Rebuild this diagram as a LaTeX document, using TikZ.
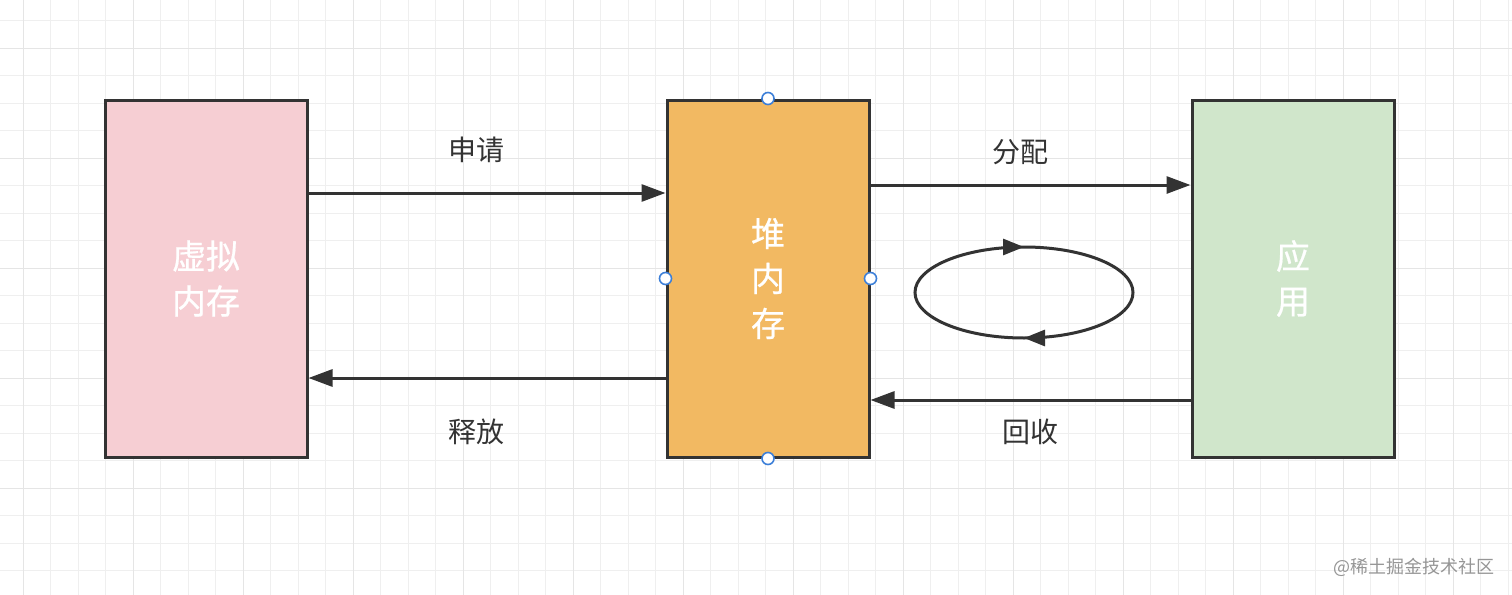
\documentclass[tikz,border=0pt]{standalone}
\usepackage{fontspec}
\setmainfont{Noto Sans CJK SC}
\newfontfamily\boxfont[FakeBold=0.6]{Noto Sans CJK SC}
\usepackage{xcolor}
\definecolor{gridminor}{RGB}{239,239,239}
\definecolor{gridmajor}{RGB}{229,229,229}
\definecolor{linecolor}{RGB}{51,51,51}
\definecolor{vmemfill}{RGB}{246,206,211}
\definecolor{heapfill}{RGB}{242,185,98}
\definecolor{appfill}{RGB}{208,230,203}
\definecolor{handlecolor}{RGB}{60,127,216}
\definecolor{markcolor}{RGB}{150,150,150}
\usetikzlibrary{arrows.meta,decorations.markings}

\begin{document}
\begin{tikzpicture}[x=0.5pt, y=-0.5pt,
  membox/.style={draw=linecolor, line width=1.5pt, minimum width=101pt, minimum height=178.5pt,
    inner sep=0pt, text=white, font=\boxfont\fontsize{17}{22.5}\selectfont, align=center},
  flow/.style={draw=linecolor, line width=1.5pt, -{Triangle[length=12pt, width=8.5pt]}},
  tag/.style={font=\fontsize{14}{16}\selectfont, text=linecolor},
  handle/.style={circle, draw=handlecolor, fill=white, line width=0.8pt, minimum size=6pt, inner sep=0pt}]
  % background grid
  \useasboundingbox (0,0) rectangle (1512,595);
  \fill[white] (0,0) rectangle (1512,595);
  \foreach \i in {0,...,54} {
    \pgfmathsetmacro{\gx}{23.3+27.5*\i}
    \pgfmathsetmacro{\gy}{20.7+27.5*\i}
    \draw[gridminor, line width=0.6pt] (\gx,0) -- (\gx,595);
    \ifnum\i<22 \draw[gridminor, line width=0.6pt] (0,\gy) -- (1512,\gy); \fi
  }
  \foreach \i in {0,...,13} {
    \pgfmathsetmacro{\gx}{23.3+110*\i}
    \pgfmathsetmacro{\gy}{48.2+110*\i}
    \draw[gridmajor, line width=0.7pt] (\gx,0) -- (\gx,595);
    \ifnum\i<6 \draw[gridmajor, line width=0.7pt] (0,\gy) -- (1512,\gy); \fi
  }

  % memory boxes
  \node[membox, fill=vmemfill] (vmem) at (206,278.5) {虚拟\\内存};
  \node[membox, fill=heapfill] (heap) at (768,278.5) {堆\\内\\存};
  \node[membox, fill=appfill] (app) at (1293,278.5) {应\\用};

  % connectors
  \draw[flow] (vmem.east |- 0,193) -- (heap.west |- 0,193);
  \draw[flow] (heap.west |- 0,378) -- (vmem.east |- 0,378);
  \draw[flow] (heap.east |- 0,185) -- (app.west |- 0,185);
  \draw[flow] (app.west |- 0,400) -- (heap.east |- 0,400);
  \node[tag] (apply) at (476,150) {申请};
  \node[tag] (release) at (476,432) {释放};
  \node[tag] (assign) at (1020,152) {分配};
  \node[tag] (reclaim) at (1030,432) {回收};

  % cycle
  \draw[linecolor, line width=1.5pt, postaction={decorate},
    decoration={markings,
      mark=at position 0.25 with {\arrow{Triangle[length=10.5pt, width=8pt]}},
      mark=at position 0.75 with {\arrow{Triangle[length=10.5pt, width=8pt]}}}]
    (1024,292.5) ellipse [x radius=109, y radius=45.5];

  % selection handles
  \foreach \p in {north, south, west, east}
    \node[handle] at (heap.\p) {};

  \node[font=\fontsize{9}{10}\selectfont, text=markcolor] (mark) at (1414,567) {@稀土掘金技术社区};
\end{tikzpicture}
\end{document}
